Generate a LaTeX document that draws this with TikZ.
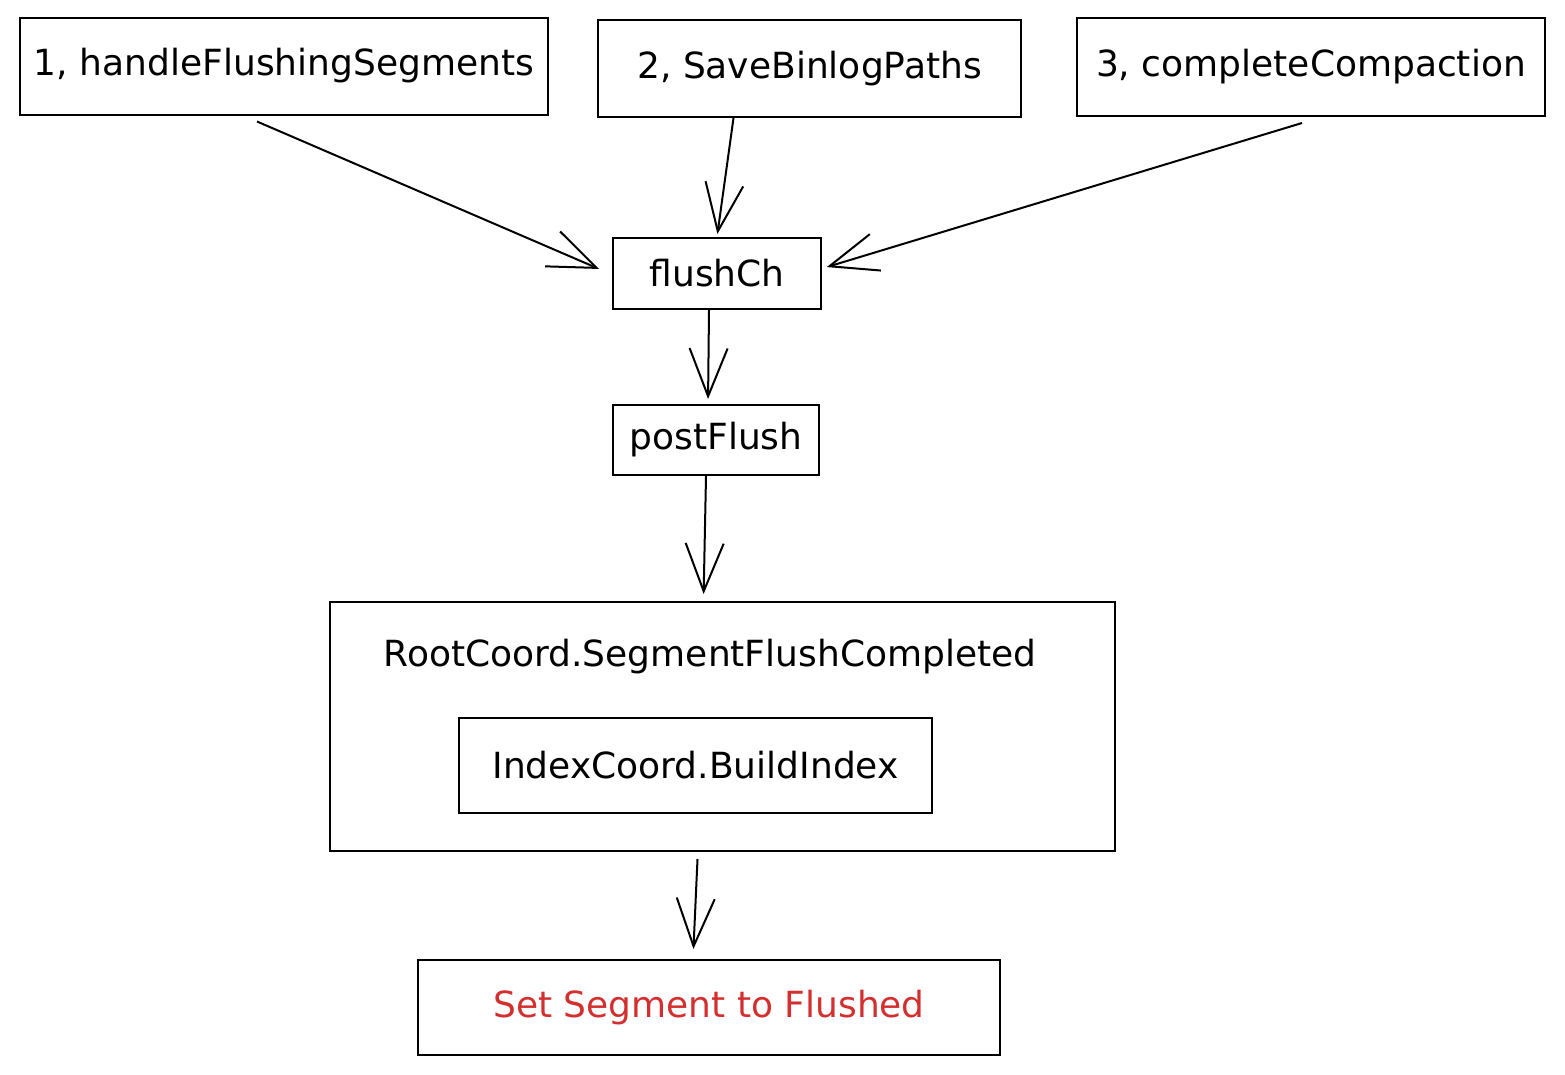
\documentclass[tikz,border=0pt]{standalone}
\usepackage{fontspec}
\setmainfont{DejaVu Sans}
\usetikzlibrary{arrows.meta,positioning}
\usepackage{xcolor}
\definecolor{flushred}{RGB}{211,47,47}

\begin{document}
\begin{tikzpicture}[x=1pt, y=-1pt, line width=2pt,
		arr/.style={-{Straight Barb[length=48pt,width=38pt,line width=2pt]}, line width=2pt}]
		\useasboundingbox (0,0) rectangle (1565,1074);
		\begin{scope}[every node/.style={draw, rectangle, inner sep=0pt, font=\fontsize{36}{42}\selectfont}]
			\node[minimum width=528pt, minimum height=97pt] (hfs) at (284,66) {1, handleFlushingSegments};
			\node[minimum width=423pt, minimum height=97pt] (sbp) at (809.5,68.5) {2, SaveBinlogPaths};
			\node[minimum width=468pt, minimum height=98pt] (cc) at (1311,67) {3, completeCompaction};
			\node[minimum width=208pt, minimum height=71pt] (flush) at (717,273.5) {flushCh};
			\node[minimum width=206pt, minimum height=70pt] (post) at (716,440) {postFlush};
			\node[minimum width=785pt, minimum height=249pt] (root) at (722.5,726.5) {};
			\node[draw=none] (rootlbl) at (710,657) {RootCoord.SegmentFlushCompleted};
			\node[minimum width=473pt, minimum height=95pt] (idx) at (695.5,765.5) {IndexCoord.BuildIndex};
			\node[minimum width=582pt, minimum height=95pt, text=flushred] (done) at (709,1007.5) {Set Segment to Flushed};
		\end{scope}
		\begin{scope}
			\path ([xshift=-27pt,yshift=-6pt]hfs.south)
			edge[arr, shorten >=14pt] ([yshift=-1pt]flush.west)
			;
			\path ([xshift=-76pt]sbp.south)
			edge[arr, shorten >=3pt] (flush.north)
			;
			\path ([xshift=-9pt,yshift=-6pt]cc.south)
			edge[arr, shorten >=5pt] ([yshift=5pt]flush.east)
			;
			\path ([xshift=-8pt]flush.south)
			edge[arr, shorten >=5pt] ([xshift=-8pt]post.north)
			;
			\path ([xshift=-10pt]post.south)
			edge[arr, shorten >=7pt] ([xshift=-19pt]root.north)
			;
			\path ([xshift=-25pt,yshift=-7pt]root.south)
			edge[arr, shorten >=10pt] ([xshift=-16pt]done.north)
			;
		\end{scope}
	\end{tikzpicture}
\end{document}
